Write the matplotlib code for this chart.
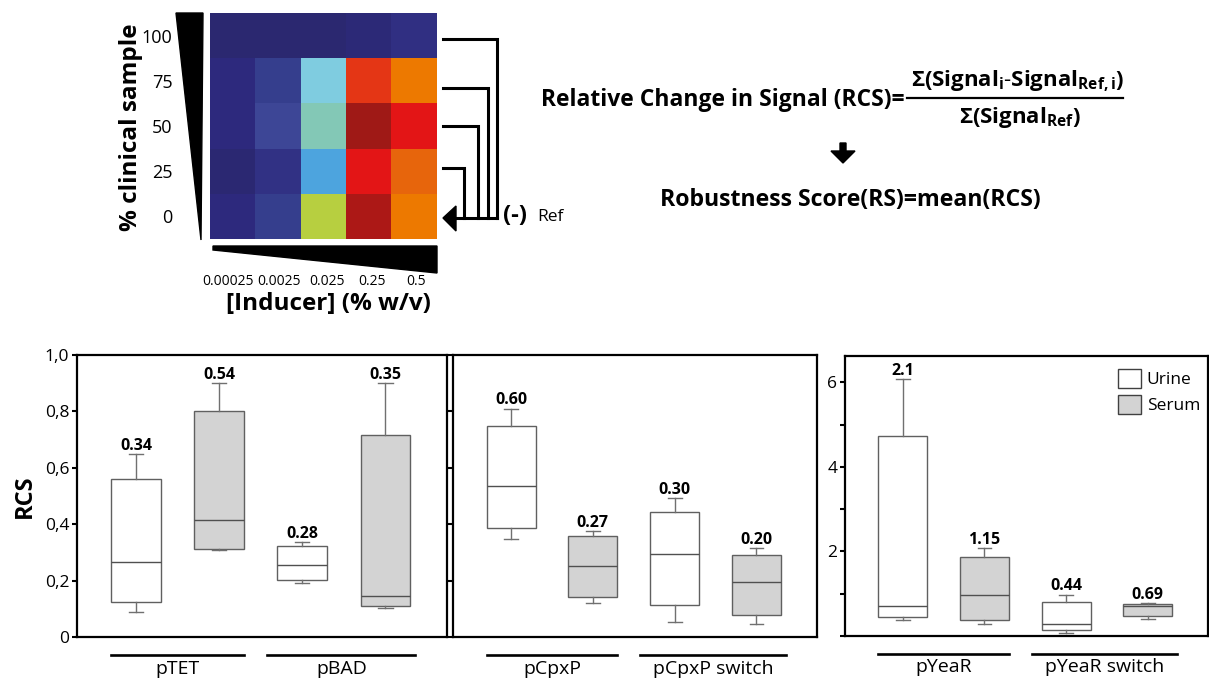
import numpy as np
import matplotlib
matplotlib.use('Agg')
import matplotlib.pyplot as plt
from matplotlib.colors import LinearSegmentedColormap
from matplotlib.patches import Polygon, Patch

plt.rcParams['font.family'] = ['Open Sans', 'DejaVu Sans']
plt.rcParams['mathtext.fontset'] = 'custom'
plt.rcParams['mathtext.rm'] = 'Open Sans'
plt.rcParams['mathtext.bf'] = 'Open Sans:bold'
plt.rcParams['mathtext.it'] = 'Open Sans:italic'

# heatmap (signal level, colour index) ----------------------------------------
inducer = ['0.00025', '0.0025', '0.025', '0.25', '0.5']
clinical = ['100', '75', '50', '25', '0']
signal = np.array([[0.0, 0.0, 0.0, 0.6, 1.3],
                   [1.0, 2.0, 5.0, 10.0, 8.0],
                   [1.0, 3.0, 6.0, 13.0, 11.0],
                   [0.2, 1.4, 4.0, 11.0, 9.0],
                   [1.0, 2.0, 7.0, 12.0, 8.0]])
cmap_colours = ['#2B2870', '#2E2A7E', '#363F8E', '#3D4696', '#4EA7E0', '#80CDE0',
                '#83C8B8', '#B8D03F', '#EE7A00', '#E8670C', '#E43616', '#E41516',
                '#AD1817', '#9F1916']

# box plots: per panel, boxes in order urine, serum, urine, serum ------------
groups = [['pTET', 'pBAD'], ['pCpxP', 'pCpxP switch'], ['pYeaR', 'pYeaR switch']]
whislo = [[0.089, 0.307, 0.192, 0.104], [0.347, 0.120, 0.052, 0.045], [0.37, 0.29, 0.08, 0.41]]
q1 = [[0.124, 0.311, 0.201, 0.110], [0.386, 0.141, 0.112, 0.077], [0.46, 0.39, 0.14, 0.48]]
med = [[0.267, 0.414, 0.256, 0.147], [0.536, 0.251, 0.296, 0.195], [0.71, 0.97, 0.29, 0.71]]
q3 = [[0.562, 0.800, 0.323, 0.716], [0.749, 0.357, 0.445, 0.290], [4.72, 1.87, 0.81, 0.76]]
whishi = [[0.649, 0.899, 0.336, 0.899], [0.809, 0.376, 0.493, 0.315], [6.07, 2.08, 0.98, 0.78]]
rs_labels = [['0.34', '0.54', '0.28', '0.35'], ['0.60', '0.27', '0.30', '0.20'],
             ['2.1', '1.15', '0.44', '0.69']]
box_faces = ['white', '#D3D3D3', 'white', '#D3D3D3']

W, H = 1209, 678
fig = plt.figure(figsize=(W / 100, H / 100), dpi=100)


def frac(x0, y0, x1, y1):
    return [x0 / W, 1 - y1 / H, (x1 - x0) / W, (y1 - y0) / H]


# heatmap
hax = fig.add_axes(frac(210, 13, 437, 239))
cmap = LinearSegmentedColormap.from_list('sig', cmap_colours)
hax.imshow(signal, cmap=cmap, vmin=0, vmax=len(cmap_colours) - 1, aspect='auto',
           interpolation='nearest')
# labels sit a little off the cell centres, as in the original
hax.set_xticks([-0.1, 1.02, 2.08, 3.07, 4.04])
hax.set_xticklabels(inducer, fontsize=10)
hax.set_yticks(range(5))
hax.set_yticklabels(clinical, fontsize=13)
hax.tick_params(length=0)
hax.tick_params(axis='y', pad=27)
hax.tick_params(axis='x', pad=25)
for s in hax.spines.values():
    s.set_visible(False)

# box plot panels
panel_px = [(77, 355, 447, 637), (453, 355, 817, 637), (845, 356, 1208, 636)]
positions = [1, 2, 3, 4]
for p in range(3):
    ax = fig.add_axes(frac(*panel_px[p]))
    stats = []
    for b in range(4):
        stats.append(dict(whislo=whislo[p][b], q1=q1[p][b], med=med[p][b],
                          q3=q3[p][b], whishi=whishi[p][b]))
    bp = ax.bxp(stats, positions=positions, widths=0.6, patch_artist=True,
                showfliers=False, capwidths=0.17,
                boxprops=dict(edgecolor='#606060', linewidth=1.0),
                whiskerprops=dict(color='#707070', linewidth=1.0),
                capprops=dict(color='#707070', linewidth=1.0),
                medianprops=dict(color='#505050', linewidth=1.0))
    for patch, fc in zip(bp['boxes'], box_faces):
        patch.set_facecolor(fc)
    for b in range(4):
        ax.annotate(rs_labels[p][b], (positions[b], whishi[p][b]), xytext=(0, 0.3),
                    textcoords='offset points', ha='center', va='bottom',
                    fontsize=11.5, fontweight='bold')
    ax.set_xlim(0.29, 4.74)
    ax.set_xticks([])
    for s in ax.spines.values():
        s.set_linewidth(1.6)
    ax.tick_params(axis='y', length=3.5, width=1.5, labelsize=12.5, pad=2)
    if p < 2:
        ax.set_ylim(0, 1.0)
        ax.set_yticks([0, 0.2, 0.4, 0.6, 0.8, 1.0])
        if p == 0:
            ax.set_yticklabels(['0', '0,2', '0,4', '0,6', '0,8', '1,0'])
            ax.set_ylabel('RCS', fontsize=17, fontweight='bold', labelpad=6)
        else:
            ax.set_yticklabels([])
    else:
        ax.set_ylim(0, 6.62)
        ax.set_yticks(range(7))
        ax.set_yticklabels(['', '', '2', '', '4', '', '6'])
        handles = [Patch(facecolor='white', edgecolor='#404040', linewidth=1.0),
                   Patch(facecolor='#D3D3D3', edgecolor='#404040', linewidth=1.0)]
        ax.legend(handles, ['Urine', 'Serum'], loc='upper left',
                  bbox_to_anchor=((1118 - 845) / 363, (636 - 369) / 280),
                  frameon=False, fontsize=12.5, handlelength=1.3, handleheight=1.3,
                  handletextpad=0.35, labelspacing=0.4, borderpad=0, borderaxespad=0)
    # group labels beneath
    tr = ax.get_xaxis_transform()
    spans = [(positions[0] - 0.3, positions[1] + 0.3), (positions[2] - 0.42, positions[3] + 0.36)]
    for g, (xa, xb) in enumerate(spans):
        ax.plot([xa, xb], [-0.064, -0.064], color='black', linewidth=1.9,
                transform=tr, clip_on=False)
        ax.text((xa + xb) / 2, -0.112, groups[p][g], transform=tr, ha='center',
                va='center', fontsize=14)

# overlay in pixel coordinates for the scheme
ov = fig.add_axes([0, 0, 1, 1])
ov.set_xlim(0, W)
ov.set_ylim(H, 0)
ov.axis('off')
ov.patch.set_alpha(0)

ov.add_patch(Polygon([(176, 13), (203, 13), (201, 240)], closed=True, color='black'))
ov.add_patch(Polygon([(213, 246), (437, 246), (437, 273), (213, 250)], closed=True,
                     color='black'))
ov.text(131, 127, '% clinical sample', rotation=90, ha='center', va='center',
        fontsize=17.5, fontweight='bold')
ov.text(328, 304, '[Inducer] (% w/v)', ha='center', va='center', fontsize=17.5,
        fontweight='bold')

bracket_rows = [(39, 497), (88, 488), (126, 478), (168, 464)]
for yy, xx in bracket_rows:
    ov.plot([443, xx, xx], [yy, yy, 218], color='black', linewidth=2.2,
            solid_joinstyle='miter')
ov.plot([455, 497], [218, 218], color='black', linewidth=2.2)
ov.add_patch(Polygon([(443, 218), (456, 206), (456, 231)], closed=True, color='black'))
ov.text(503, 216, '(-)', ha='left', va='center', fontsize=17, fontweight='bold')
ov.text(537, 217, 'Ref', ha='left', va='center', fontsize=12.5)

# formula
ov.text(541, 100, 'Relative Change in Signal (RCS)=', ha='left', va='center',
        fontsize=16.5, fontweight='bold')
ov.text(1018, 81, r'$\mathbf{\Sigma(Signal_{i}\text{-}Signal_{Ref,i})}$', ha='center',
        va='center', fontsize=16)
ov.plot([907, 1123], [98, 98], color='black', linewidth=1.6)
ov.text(1020, 117, r'$\mathbf{\Sigma(Signal_{Ref})}$', ha='center', va='center',
        fontsize=16)
ov.add_patch(Polygon([(840, 143), (846, 143), (846, 151), (855, 151), (843, 163),
                      (831, 151), (840, 151)], closed=True, color='black'))
ov.text(850, 200, 'Robustness Score(RS)=mean(RCS)', ha='center', va='center',
        fontsize=16.7, fontweight='bold')

fig.savefig('out.png', dpi=100)
